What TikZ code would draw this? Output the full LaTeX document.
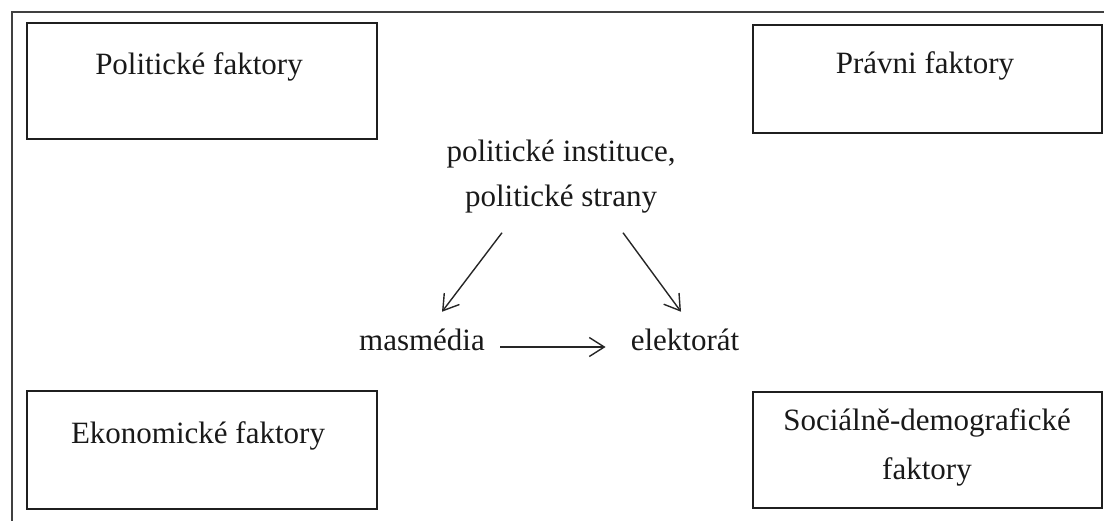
\documentclass[tikz,border=0pt]{standalone}
\usepackage{fontspec}
\setmainfont{Liberation Serif}
\usetikzlibrary{arrows.meta,calc}
\tikzset{
  fbox/.style={draw=black!88, line width=1.6pt, inner sep=0pt, minimum width=#1},
  lbl/.style={inner sep=0pt, font=\fontsize{31}{45}\selectfont, text=black!90},
  conn/.style={draw=black!85, line width=1.4pt, -{Straight Barb[length=15pt,width=19pt,line width=1.4pt]}},
  frame/.style={draw=black!75, line width=1.8pt}
}
\begin{document}
\begin{tikzpicture}[x=1pt,y=-1pt]
\useasboundingbox (0,0) rectangle (1104,520);
% outer frame
\coordinate (fbl) at (12,522);
\coordinate (ftl) at (12,12);
\coordinate (ftr) at (1106,12);
\draw[frame] (fbl) -- (ftl) -- (ftr);
% boxes
\node[fbox=350pt, minimum height=116pt] (pol) at (202,81) {};
\node[fbox=349pt, minimum height=108pt] (prav) at (927.5,79) {};
\node[fbox=350pt, minimum height=118pt] (eko) at (202,450) {};
\node[fbox=349pt, minimum height=116pt] (soc) at (927.5,450) {};
% box texts
\node[lbl, anchor=base] (polt) at (199,74) {Politické faktory};
\node[lbl, anchor=base] (pravt) at (925,73) {Právni faktory};
\node[lbl, anchor=base] (ekot) at (198,443) {Ekonomické faktory};
\node[lbl, anchor=base] (soct1) at (927,430) {Sociálně-demografické};
\node[lbl, anchor=base] (soct2) at (927,479) {faktory};
% centre
\node[lbl, align=center, anchor=south] (inst) at (561,213.7) {politické instituce,\\politické strany};
\node[lbl, anchor=base] (mas) at (422,350) {masmédia};
\node[lbl, anchor=base] (elek) at (685,350) {elektorát};
% connectors
\draw[conn] ($(inst.south)+(-59,19)$) -- ($(mas.north)+(20,-16.5)$);
\draw[conn] ($(inst.south)+(62,19)$) -- ($(elek.north)+(-4,-16.5)$);
\draw[conn] ($(mas.base east)+(15,-3)$) -- ($(elek.base west)+(-25,-3)$);
\end{tikzpicture}
\end{document}
